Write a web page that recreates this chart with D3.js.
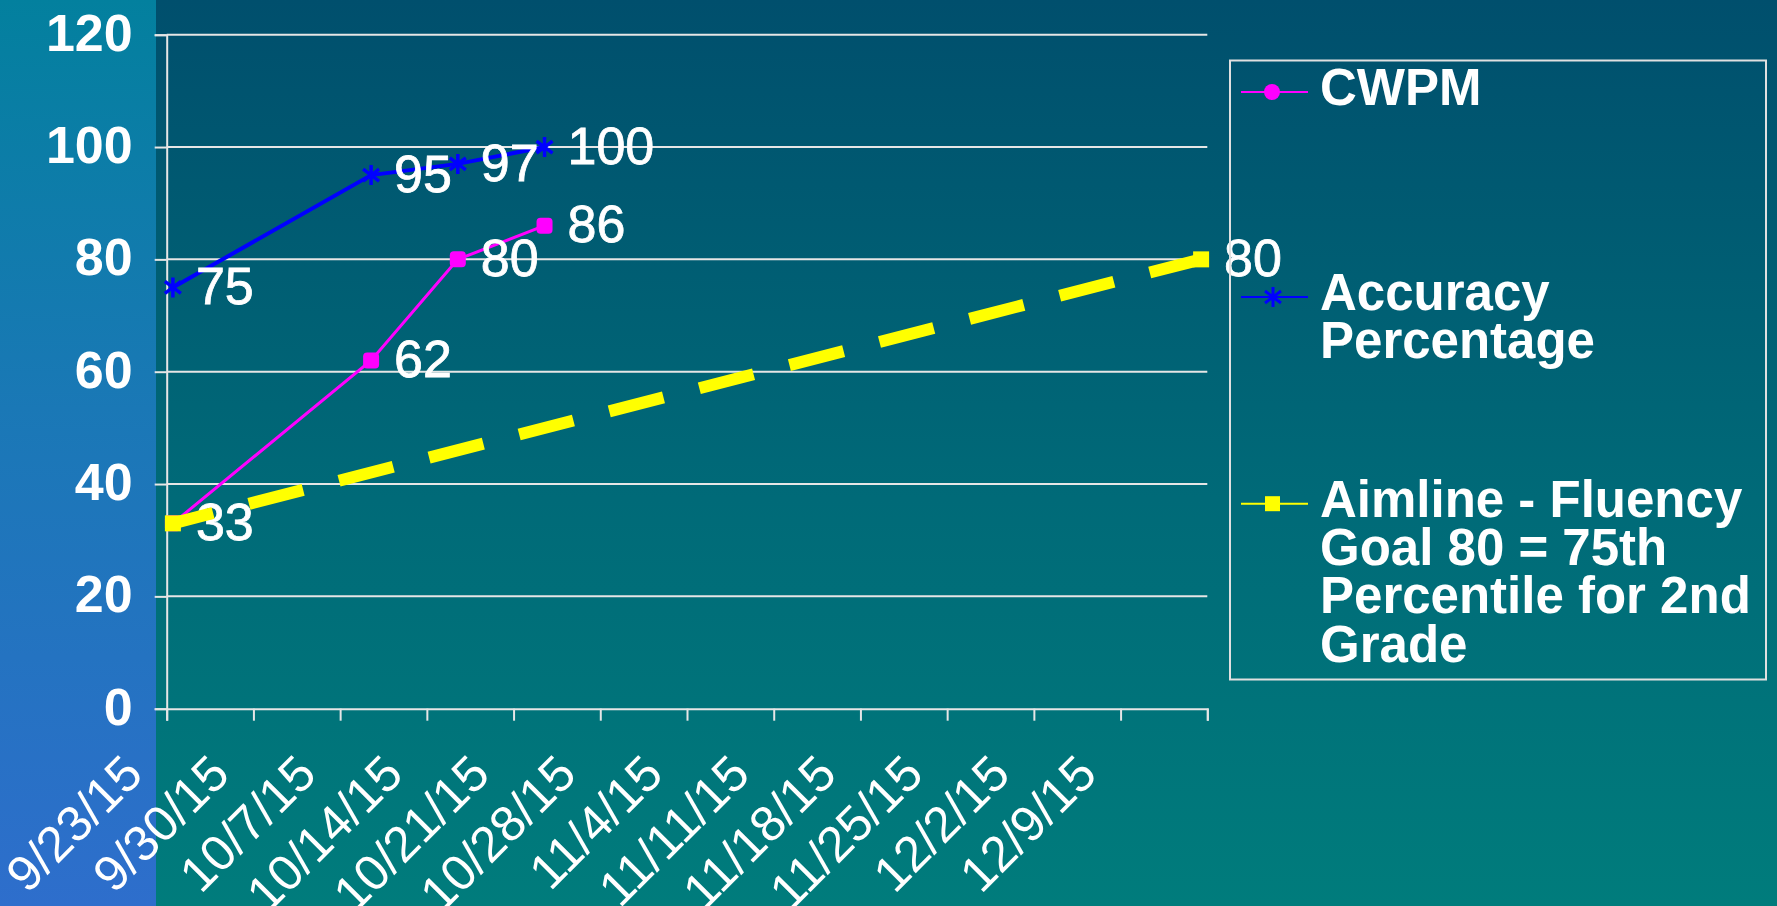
<!DOCTYPE html>
<html>
<head>
<meta charset="utf-8">
<script src="https://cdn.jsdelivr.net/npm/d3@7"></script>
<style>
  html, body { margin: 0; padding: 0; background: #006070; overflow: hidden; }
  svg { display: block; font-family: "Liberation Sans", Arial, Helvetica, sans-serif; }
</style>
</head>
<body>
<svg id="chart"></svg>
<script>
// week ticks on the date axis (last tick 12/16/15 has no label)
const xLabels = ["9/23/15", "9/30/15", "10/7/15", "10/14/15", "10/21/15", "10/28/15",
  "11/4/15", "11/11/15", "11/18/15", "11/25/15", "12/2/15", "12/9/15"];
const axisEnd = "12/16/15";
const yTicks = [0, 20, 40, 60, 80, 100, 120];

const probeDates = ["9/23/15", "10/9/15", "10/16/15", "10/23/15"];
const cwpmValues = [33, 62, 80, 86];
const accuracyValues = [75, 95, 97, 100];

const aimDates = ["9/23/15", "12/15/15"];
const aimValues = [33, 80];

const legendItems = [
  { key: "cwpm", lines: ["CWPM"] },
  { key: "acc", lines: ["Accuracy", "Percentage"] },
  { key: "aim", lines: ["Aimline - Fluency", "Goal 80 = 75th", "Percentile for 2nd", "Grade"] }
];

const width = 1777, height = 906;
const plot = { left: 166.7, right: 1207.3, top: 34.7, bottom: 708.7 };
const parse = d3.utcParse("%m/%d/%y");
// Excel date axis puts each day's point in the middle of its day slot
const mid = d => d3.utcHour.offset(parse(d), 12);

const svg = d3.select("#chart").attr("width", width).attr("height", height);
const defs = svg.append("defs");

const bg = defs.append("linearGradient").attr("id", "bg").attr("x1", 0).attr("y1", 0).attr("x2", 0).attr("y2", 1);
bg.append("stop").attr("offset", "0%").attr("stop-color", "#004f6d");
bg.append("stop").attr("offset", "55%").attr("stop-color", "#006a78");
bg.append("stop").attr("offset", "100%").attr("stop-color", "#007c7c");
const strip = defs.append("linearGradient").attr("id", "strip").attr("x1", 0).attr("y1", 0).attr("x2", 0).attr("y2", 1);
strip.append("stop").attr("offset", "0%").attr("stop-color", "#03809e");
strip.append("stop").attr("offset", "45%").attr("stop-color", "#1a78b6");
strip.append("stop").attr("offset", "100%").attr("stop-color", "#2e6ecc");

svg.append("rect").attr("width", width).attr("height", height).attr("fill", "url(#bg)");
svg.append("rect").attr("width", 156).attr("height", height).attr("fill", "url(#strip)");

const x = d3.scaleUtc().domain([parse(xLabels[0]), parse(axisEnd)]).range([plot.left, plot.right]);
const y = d3.scaleLinear().domain([0, 120]).range([plot.bottom, plot.top]);

// gridlines + y axis
const yAxis = svg.append("g").attr("transform", `translate(${plot.left},0)`)
  .call(d3.axisLeft(y).tickValues(yTicks).tickSize(12).tickPadding(22));
yAxis.select(".domain").attr("stroke", "#e6e6e6").attr("stroke-width", 2);
yAxis.selectAll(".tick line").attr("stroke", "#e6e6e6").attr("stroke-width", 2);
yAxis.selectAll(".tick text")
  .attr("fill", "#fff").attr("font-size", 52).attr("font-weight", "bold")
  .attr("font-family", "'Liberation Sans', Arial, sans-serif").attr("dy", "0.3em");

svg.append("g").selectAll("line")
  .data(yTicks.filter(v => v > 0))
  .join("line")
  .attr("x1", plot.left).attr("x2", plot.right)
  .attr("y1", d => y(d)).attr("y2", d => y(d))
  .attr("stroke", "#e6e6e6").attr("stroke-width", 2);

// x axis
const tickDates = d3.utcDay.range(parse(xLabels[0]), d3.utcDay.offset(parse(axisEnd), 1), 7);
const xAxis = svg.append("g").attr("transform", `translate(0,${plot.bottom})`)
  .call(d3.axisBottom(x).tickValues(tickDates).tickSize(12)
    .tickFormat((d, i) => xLabels[i] || ""));
xAxis.select(".domain").attr("stroke", "#e6e6e6").attr("stroke-width", 2);
xAxis.selectAll(".tick line").attr("stroke", "#e6e6e6").attr("stroke-width", 2);
xAxis.selectAll(".tick text")
  .attr("fill", "#fff").attr("font-size", 50)
  .attr("font-family", "'Liberation Sans', Arial, sans-serif")
  .attr("text-anchor", "end")
  .attr("x", 0).attr("y", 0).attr("dy", 0)
  .attr("transform", "translate(-22,68) rotate(-45)");

const colors = { cwpm: "#ff00ff", acc: "#0000ff", aim: "#ffff00" };
const starPath = "M0,-10V10M-8,-6L8,6M-8,6L8,-6";

const cwpm = probeDates.map((d, i) => ({ date: mid(d), value: cwpmValues[i] }));
const acc = probeDates.map((d, i) => ({ date: mid(d), value: accuracyValues[i] }));
const aim = aimDates.map((d, i) => ({ date: mid(d), value: aimValues[i] }));

const line = d3.line().x(d => x(d.date)).y(d => y(d.value));

svg.append("path").datum(acc).attr("d", line)
  .attr("fill", "none").attr("stroke", colors.acc).attr("stroke-width", 4);
svg.append("g").selectAll("path").data(acc).join("path")
  .attr("transform", d => `translate(${x(d.date)},${y(d.value)})`)
  .attr("d", starPath).attr("stroke", colors.acc).attr("stroke-width", 3.5).attr("fill", "none");

svg.append("path").datum(cwpm).attr("d", line)
  .attr("fill", "none").attr("stroke", colors.cwpm).attr("stroke-width", 3);
svg.append("g").selectAll("rect").data(cwpm).join("rect")
  .attr("x", d => x(d.date) - 8).attr("y", d => y(d.value) - 8)
  .attr("width", 16).attr("height", 16).attr("rx", 4)
  .attr("fill", colors.cwpm);

const labelText = (sel, data) => sel.selectAll("text").data(data).join("text")
  .attr("x", d => x(d.date) + 23).attr("y", d => y(d.value))
  .attr("dy", "0.32em")
  .attr("fill", "#fff").attr("font-size", 52)
  .attr("stroke", "#fff").attr("stroke-width", 0.8)
  .text(d => d.value);

labelText(svg.append("g"), acc);
labelText(svg.append("g"), cwpm);

// aimline drawn over the labels, as in the original
svg.append("path").datum(aim).attr("d", line)
  .attr("fill", "none").attr("stroke", colors.aim).attr("stroke-width", 12)
  .attr("stroke-dasharray", "56,37").attr("stroke-dashoffset", 14.5);
svg.append("g").selectAll("rect").data(aim).join("rect")
  .attr("x", d => x(d.date) - 8).attr("y", d => y(d.value) - 8)
  .attr("width", 16).attr("height", 16)
  .attr("fill", colors.aim);
labelText(svg.append("g"), aim.slice(-1));

// legend
const legend = svg.append("g");
legend.append("rect")
  .attr("x", 1230).attr("y", 60.5).attr("width", 536).attr("height", 619)
  .attr("fill", "none").attr("stroke", "#e0e0e0").attr("stroke-width", 2);

const legendTop = [105, 310, 516.7];
const lineH = 48.3;
legendItems.forEach((item, i) => {
  const base = legendTop[i];
  const my = base - 13;
  const g = legend.append("g");
  g.append("line").attr("x1", 1241).attr("x2", 1308).attr("y1", my).attr("y2", my)
    .attr("stroke", colors[item.key]).attr("stroke-width", 2);
  if (item.key === "cwpm") {
    g.append("circle").attr("cx", 1272).attr("cy", my).attr("r", 8).attr("fill", colors.cwpm);
  } else if (item.key === "acc") {
    g.append("path").attr("transform", `translate(1273,${my})`).attr("d", starPath)
      .attr("stroke", colors.acc).attr("stroke-width", 3).attr("fill", "none");
  } else {
    g.append("rect").attr("x", 1265).attr("y", my - 7.5).attr("width", 15).attr("height", 15)
      .attr("fill", colors.aim);
  }
  const t = g.append("text").attr("x", 1320).attr("y", base)
    .attr("fill", "#fff").attr("font-size", 51).attr("font-weight", "bold");
  t.selectAll("tspan").data(item.lines).join("tspan")
    .attr("x", 1320).attr("dy", (d, j) => j === 0 ? 0 : lineH)
    .text(d => d);
});
</script>
</body>
</html>
